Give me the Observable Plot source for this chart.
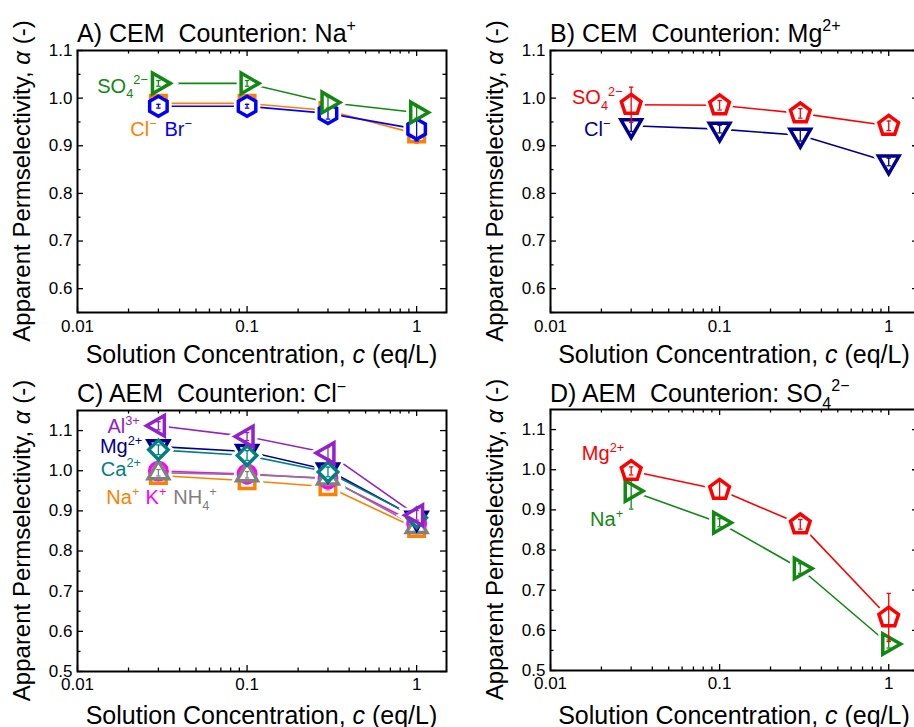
<!DOCTYPE html>
<html>
<head>
<meta charset="utf-8">
<script src="https://cdn.jsdelivr.net/npm/d3@7"></script>
<script src="https://cdn.jsdelivr.net/npm/@observablehq/plot@0.6"></script>
<style>
html, body { margin: 0; padding: 0; background: #fff; overflow: hidden; }
#wrap { position: relative; width: 914px; height: 727px; overflow: hidden; background: #fff; }
#wrap svg { position: absolute; }
</style>
</head>
<body>
<div id="wrap"></div>
<script>
// ---------------- data ----------------
const conc = [0.03, 0.1, 0.3, 1];

const xTickLabels = [0.01, 0.03, 0.1, 0.3, 1];
const xMajorTicks = [0.01, 0.1, 1];
const xMinorTicks = [0.02, 0.03, 0.04, 0.05, 0.06, 0.07, 0.08, 0.09, 0.2, 0.3, 0.4, 0.5, 0.6, 0.7, 0.8, 0.9];
const yTicksAB = [0.6, 0.7, 0.8, 0.9, 1.0, 1.1];
const yMinorAB = [0.55, 0.65, 0.75, 0.85, 0.95, 1.05];
const yTicksCD = [0.5, 0.6, 0.7, 0.8, 0.9, 1.0, 1.1];
const yMinorCD = [0.55, 0.65, 0.75, 0.85, 0.95, 1.05];

// Panel A: CEM, counterion Na+
const A_SO4 = [1.031, 1.031, 0.991, 0.970];
const A_SO4_err = [0.006, 0.006, 0.012, 0.012];
const A_Cl = [0.989, 0.989, 0.974, 0.925];
const A_Cl_err = [0.008, 0.015, 0.010, 0.020];
const A_Br = [0.983, 0.983, 0.968, 0.935];
const A_Br_err = [0.004, 0.004, 0.012, 0.025];

// Panel B: CEM, counterion Mg2+
const B_SO4 = [0.986, 0.985, 0.968, 0.942];
const B_SO4_err = [0.037, 0.010, 0.010, 0.010];
const B_Cl = [0.942, 0.935, 0.922, 0.866];
const B_Cl_err = [0.012, 0.008, 0.012, 0.008];

// Panel C: AEM, counterion Cl-
const C_Na = [0.988, 0.975, 0.960, 0.856];
const C_Na_err = [0.008, 0.008, 0.008, 0.008];
const C_K = [0.999, 0.992, 0.980, 0.868];
const C_K_err = [0.008, 0.008, 0.008, 0.008];
const C_NH4 = [0.995, 0.990, 0.982, 0.861];
const C_NH4_err = [0.008, 0.008, 0.008, 0.008];
const C_Mg = [1.060, 1.048, 1.002, 0.882];
const C_Mg_err = [0.015, 0.015, 0.010, 0.010];
const C_Ca = [1.052, 1.038, 0.997, 0.883];
const C_Ca_err = [0.012, 0.012, 0.012, 0.010];
const C_Al = [1.112, 1.085, 1.044, 0.889];
const C_Al_err = [0.010, 0.010, 0.015, 0.012];

// Panel D: AEM, counterion SO4 2-
const D_Mg = [0.997, 0.950, 0.864, 0.632];
const D_Mg_err = [0.010, 0.022, 0.012, 0.060];
const D_Na = [0.947, 0.868, 0.754, 0.566];
const D_Na_err = [0.045, 0.010, 0.012, 0.010];

// annotation labels (x in eq/L, y in permselectivity units)
const A_labels = [
  {x: 0.0260, y: 1.025, t: "SO_{4}^{2−}", color: "#118811", anchor: "end"},
  {x: 0.0205, y: 0.933, t: "Cl^{−}", color: "#ff8000", anchor: "start"},
  {x: 0.0326, y: 0.933, t: "Br^{−}", color: "#0000ff", anchor: "start"}
];
const B_labels = [
  {x: 0.0267, y: 1.001, t: "SO_{4}^{2−}", color: "#ff0000", anchor: "end"},
  {x: 0.0226, y: 0.934, t: "Cl^{−}", color: "#000090", anchor: "end"}
];
const C_labels = [
  {x: 0.0233, y: 1.109, t: "Al^{3+}", color: "#9420cc", anchor: "end"},
  {x: 0.0241, y: 1.060, t: "Mg^{2+}", color: "#000090", anchor: "end"},
  {x: 0.0237, y: 1.004, t: "Ca^{2+}", color: "#008080", anchor: "end"},
  {x: 0.0148, y: 0.933, t: "Na^{+}", color: "#ff8000", anchor: "start"},
  {x: 0.0252, y: 0.933, t: "K^{+}", color: "#ff00ff", anchor: "start"},
  {x: 0.0367, y: 0.933, t: "NH_{4}^{+}", color: "#808080", anchor: "start"}
];
const D_labels = [
  {x: 0.0273, y: 1.039, t: "Mg^{2+}", color: "#ff0000", anchor: "end"},
  {x: 0.0269, y: 0.876, t: "Na^{+}", color: "#118811", anchor: "end"}
];

// ---------------- symbols ----------------
function poly(n, rot, scale) {
  return {draw(ctx, size) {
    const R = Math.sqrt(size / Math.PI) * scale;
    for (let i = 0; i < n; i++) {
      const a = rot + 2 * Math.PI * i / n;
      const x = R * Math.sin(a), y = -R * Math.cos(a);
      if (i) ctx.lineTo(x, y); else ctx.moveTo(x, y);
    }
    ctx.closePath();
  }};
}
const triUp = poly(3, 0, 1.32);
const triDown = poly(3, Math.PI, 1.32);
const triRight = poly(3, Math.PI / 2, 1.32);
const triLeft = poly(3, -Math.PI / 2, 1.32);
const pentagon = poly(5, 0, 1.15);
const hexagon = poly(6, 0, 1.12);
const diamond = poly(4, 0, 1.08);
const square = poly(4, Math.PI / 4, 1.22);
const circle = {draw(ctx, size) { const r = Math.sqrt(size / Math.PI) * 0.97; ctx.moveTo(r, 0); ctx.arc(0, 0, r, 0, 2 * Math.PI); ctx.closePath(); }};
const capSym = {draw(ctx, size) { const r = Math.sqrt(size / Math.PI); ctx.moveTo(-r, 0); ctx.lineTo(r, 0); }};

// ---------------- rich text ----------------
function richify(el, base) {
  const s = el.textContent;
  if (!/[\^_*]\{/.test(s)) return;
  while (el.firstChild) el.removeChild(el.firstChild);
  const re = /([\^_*])\{([^}]*)\}|([^\^_*]+)/g;
  let m, shift = 0;
  while ((m = re.exec(s)) !== null) {
    const t = document.createElementNS("http://www.w3.org/2000/svg", "tspan");
    let target = 0, txt;
    if (m[1] === "^") { target = -0.42 * base; t.setAttribute("font-size", base * 0.64); txt = m[2]; }
    else if (m[1] === "_") { target = 0.28 * base; t.setAttribute("font-size", base * 0.64); txt = m[2]; }
    else if (m[1] === "*") { t.setAttribute("font-style", "italic"); txt = m[2]; }
    else txt = m[3];
    if (target !== shift) t.setAttribute("dy", target - shift);
    shift = target;
    t.textContent = txt;
    el.appendChild(t);
  }
}

const FONT = "'Liberation Sans', Arial, Helvetica, sans-serif";

function makePanel(cfg) {
  const pw = cfg.width - cfg.ml - cfg.mr, ph = cfg.height - cfg.mt - cfg.mb;
  const marks = [];
  // tick marks (inward)
  marks.push(Plot.tickY(cfg.yTicks, {y: d => d, insetRight: pw - 6, strokeWidth: 1.3}));
  marks.push(Plot.tickY(cfg.yMinor, {y: d => d, insetRight: pw - 3.5, strokeWidth: 1.3}));
  marks.push(Plot.tickY(cfg.yTicks, {y: d => d, insetLeft: pw - 6, strokeWidth: 1.3}));
  marks.push(Plot.tickY(cfg.yMinor, {y: d => d, insetLeft: pw - 3.5, strokeWidth: 1.3}));
  marks.push(Plot.tickX(xMajorTicks, {x: d => d, insetTop: ph - 6, strokeWidth: 1.3}));
  marks.push(Plot.tickX(xMinorTicks, {x: d => d, insetTop: ph - 3.5, strokeWidth: 1.3}));
  marks.push(Plot.tickX(xMajorTicks, {x: d => d, insetBottom: ph - 6, strokeWidth: 1.3}));
  marks.push(Plot.tickX(xMinorTicks, {x: d => d, insetBottom: ph - 3.5, strokeWidth: 1.3}));
  marks.push(Plot.axisX(xTickLabels, {tickSize: 0, tickPadding: cfg.xpad, tickFormat: d => String(d), label: null, fontSize: 17}));
  marks.push(Plot.axisY(cfg.yTicks, {tickSize: 0, tickPadding: 5, tickFormat: d => d.toFixed(1), label: null, fontSize: 17}));

  const rows = cfg.series.map(s => conc.map((c, i) => ({c, v: s.values[i], e: s.errors[i]})));
  cfg.series.forEach((s, j) => marks.push(Plot.line(rows[j], {x: "c", y: "v", stroke: s.color, strokeWidth: 1.6})));
  cfg.series.forEach((s, j) => marks.push(Plot.dot(rows[j], {x: "c", y: "v", symbol: s.symbol, r: 9, fill: "white", stroke: "white", strokeWidth: 9})));
  cfg.series.forEach((s, j) => {
    marks.push(Plot.dot(rows[j], {x: "c", y: "v", symbol: s.symbol, r: 9, fill: "white", stroke: s.color, strokeWidth: 3.5}));
    marks.push(Plot.ruleX(rows[j], {x: "c", y1: d => d.v - d.e, y2: d => d.v + d.e, stroke: s.color, strokeWidth: 1.3}));
    marks.push(Plot.dot(rows[j], {x: "c", y: d => d.v + d.e, symbol: capSym, r: 2.2, fill: "none", stroke: s.color, strokeWidth: 1.3}));
    marks.push(Plot.dot(rows[j], {x: "c", y: d => d.v - d.e, symbol: capSym, r: 2.2, fill: "none", stroke: s.color, strokeWidth: 1.3}));
  });
  cfg.labels.forEach(l => marks.push(Plot.text([l], {x: "x", y: "y", text: "t", fill: l.color, textAnchor: l.anchor, fontSize: 20})));
  marks.push(Plot.frame({strokeWidth: 2}));

  const plot = Plot.plot({
    width: cfg.width, height: cfg.height,
    marginLeft: cfg.ml, marginRight: cfg.mr, marginTop: cfg.mt, marginBottom: cfg.mb,
    x: {type: "log", domain: [0.01, 1.5], label: null},
    y: {domain: cfg.yDomain, label: null},
    style: {fontFamily: FONT, fontSize: "17px", background: "transparent", overflow: "visible", color: "black"},
    marks
  });
  plot.style.left = cfg.left + "px";
  plot.style.top = cfg.top + "px";
  plot.style.maxWidth = "none";

  d3.select(plot).selectAll("text").each(function () { richify(this, 20); });

  const svg = d3.select(plot);
  const t1 = svg.append("text").attr("x", cfg.ml).attr("y", cfg.titleY)
    .attr("font-size", 25).attr("font-family", FONT).attr("fill", "black").attr("text-anchor", "start")
    .style("white-space", "pre").text(cfg.title);
  richify(t1.node(), 25);
  const t2 = svg.append("text").attr("x", cfg.ml + pw / 2).attr("y", cfg.xlabY)
    .attr("font-size", 25).attr("font-family", FONT).attr("text-anchor", "middle").attr("fill", "black")
    .text("Solution Concentration, *{c} (eq/L)");
  richify(t2.node(), 25);
  const t3 = svg.append("text")
    .attr("transform", `translate(${cfg.ml - 47},${cfg.mt + ph / 2}) rotate(-90)`)
    .attr("font-size", 24).attr("font-family", FONT).attr("text-anchor", "middle").attr("fill", "black")
    .text("Apparent Permselectivity, *{α} (-)");
  richify(t3.node(), 24);

  document.getElementById("wrap").appendChild(plot);
}

makePanel({
  left: 0, top: 0, width: 457, height: 363, ml: 77, mr: 11, mt: 50, mb: 51, xpad: 7,
  yDomain: [0.55, 1.1], yTicks: yTicksAB, yMinor: yMinorAB,
  titleY: 41.7, xlabY: 363, title: "A) CEM  Counterion: Na^{+}",
  series: [
    {values: A_Cl, errors: A_Cl_err, color: "#ff8000", symbol: square},
    {values: A_Br, errors: A_Br_err, color: "#0000ff", symbol: hexagon},
    {values: A_SO4, errors: A_SO4_err, color: "#118811", symbol: triRight}
  ],
  labels: A_labels
});
makePanel({
  left: 457, top: 0, width: 462, height: 363, ml: 93, mr: 1, mt: 50, mb: 51, xpad: 7,
  yDomain: [0.55, 1.1], yTicks: yTicksAB, yMinor: yMinorAB,
  titleY: 41.7, xlabY: 363, title: "B) CEM  Counterion: Mg^{2+}",
  series: [
    {values: B_Cl, errors: B_Cl_err, color: "#000090", symbol: triDown},
    {values: B_SO4, errors: B_SO4_err, color: "#ff0000", symbol: pentagon}
  ],
  labels: B_labels
});
makePanel({
  left: 0, top: 363, width: 457, height: 364, ml: 77, mr: 11, mt: 47, mb: 56, xpad: 6,
  yDomain: [0.5, 1.15], yTicks: yTicksCD, yMinor: yMinorCD,
  titleY: 39, xlabY: 360.5, title: "C) AEM  Counterion: Cl^{−}",
  series: [
    {values: C_Na, errors: C_Na_err, color: "#ff8000", symbol: square},
    {values: C_K, errors: C_K_err, color: "#ff00ff", symbol: circle},
    {values: C_NH4, errors: C_NH4_err, color: "#808080", symbol: triUp},
    {values: C_Mg, errors: C_Mg_err, color: "#000090", symbol: triDown},
    {values: C_Ca, errors: C_Ca_err, color: "#008080", symbol: diamond},
    {values: C_Al, errors: C_Al_err, color: "#9420cc", symbol: triLeft}
  ],
  labels: C_labels
});
makePanel({
  left: 457, top: 363, width: 462, height: 364, ml: 93, mr: 1, mt: 46, mb: 57, xpad: 6,
  yDomain: [0.5, 1.15], yTicks: yTicksCD, yMinor: yMinorCD,
  titleY: 38.5, xlabY: 360.5, title: "D) AEM  Counterion: SO_{4}^{2−}",
  series: [
    {values: D_Na, errors: D_Na_err, color: "#118811", symbol: triRight},
    {values: D_Mg, errors: D_Mg_err, color: "#ff0000", symbol: pentagon}
  ],
  labels: D_labels
});
</script>
</body>
</html>
